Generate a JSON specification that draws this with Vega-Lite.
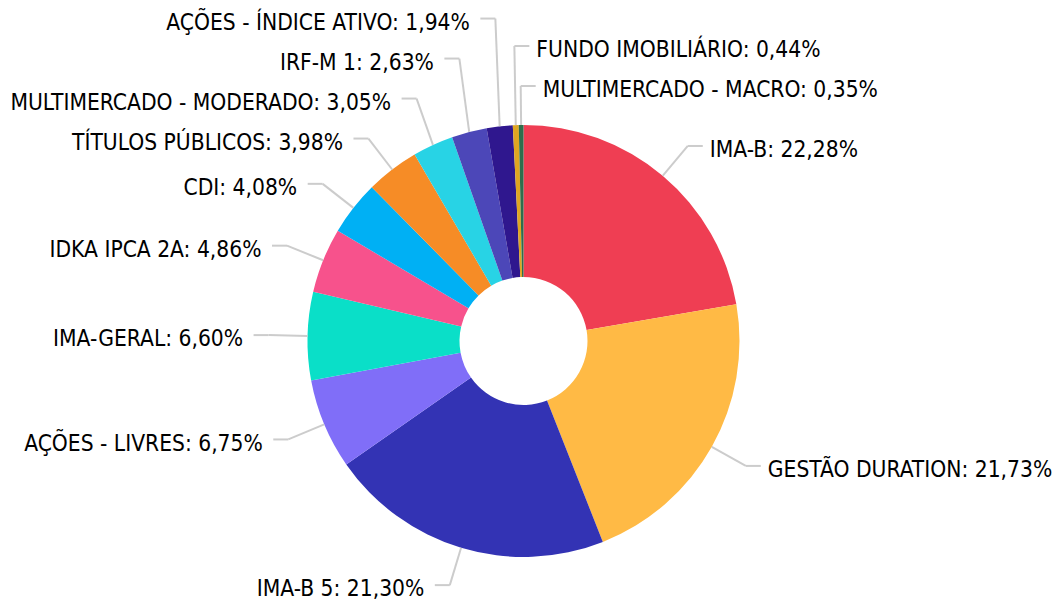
{
  "$schema": "https://vega.github.io/schema/vega-lite/v6.json",
  "width": 1047,
  "height": 518,
  "autosize": {"type": "none"},
  "padding": {"left": 0, "top": 82, "right": 12, "bottom": 0},
  "background": "white",
  "config": {"view": {"stroke": null}},
  "data": {"values": [
    {"categoria": "IMA-B", "valor": 22.28, "ordem": 1},
    {"categoria": "GESTÃO DURATION", "valor": 21.73, "ordem": 2},
    {"categoria": "IMA-B 5", "valor": 21.30, "ordem": 3},
    {"categoria": "AÇÕES - LIVRES", "valor": 6.75, "ordem": 4},
    {"categoria": "IMA-GERAL", "valor": 6.60, "ordem": 5},
    {"categoria": "IDKA IPCA 2A", "valor": 4.86, "ordem": 6},
    {"categoria": "CDI", "valor": 4.08, "ordem": 7},
    {"categoria": "TÍTULOS PÚBLICOS", "valor": 3.98, "ordem": 8},
    {"categoria": "MULTIMERCADO - MODERADO", "valor": 3.05, "ordem": 9},
    {"categoria": "IRF-M 1", "valor": 2.63, "ordem": 10},
    {"categoria": "AÇÕES - ÍNDICE ATIVO", "valor": 1.94, "ordem": 11},
    {"categoria": "FUNDO IMOBILIÁRIO", "valor": 0.44, "ordem": 12},
    {"categoria": "MULTIMERCADO - MACRO", "valor": 0.35, "ordem": 13}
  ]},
  "transform": [
    {"window": [{"op": "sum", "field": "valor", "as": "acum"}], "sort": [{"field": "ordem"}], "frame": [null, 0]},
    {"joinaggregate": [{"op": "sum", "field": "valor", "as": "total"}]},
    {"calculate": "(datum.acum - datum.valor/2)/datum.total*2*PI", "as": "ang"},
    {"calculate": "216*sin(datum.ang)", "as": "ex"},
    {"calculate": "-216*cos(datum.ang)", "as": "ey"},
    {"calculate": "255*sin(datum.ang)", "as": "bx"},
    {"calculate": "-255*cos(datum.ang)", "as": "by"},
    {"calculate": "(sin(datum.ang) > 0 || datum.ang > 6.2) ? 1 : -1", "as": "lado"},
    {"calculate": "datum.lado == 1 ? -(datum.ang > PI ? datum.ang - 2*PI : datum.ang) : datum.ang", "as": "chave"},
    {"window": [{"op": "row_number", "as": "rk"}], "groupby": ["lado"], "sort": [{"field": "chave"}]},
    {"calculate": "datum.by + datum.rk*40", "as": "t"},
    {"window": [{"op": "min", "field": "t", "as": "tmin"}], "groupby": ["lado"], "sort": [{"field": "chave"}], "frame": [null, 0]},
    {"calculate": "datum.tmin - datum.rk*40", "as": "ly"},
    {"calculate": "datum.bx + datum.lado*15", "as": "lx"},
    {"calculate": "datum.lado == 1 ? datum.lx + 7 : datum.lx - 10.5", "as": "tx"},
    {"calculate": "datum.categoria + ': ' + replace(format(datum.valor, '.2f'), '.', ',') + '%'", "as": "rotulo"}
  ],
  "layer": [
    {
      "mark": {"type": "arc", "outerRadius": 216, "innerRadius": 64},
      "encoding": {
        "theta": {"field": "valor", "type": "quantitative", "stack": true},
        "order": {"field": "ordem", "type": "quantitative"},
        "color": {
          "field": "categoria", "type": "nominal", "legend": null,
          "scale": {
            "domain": ["IMA-B", "GESTÃO DURATION", "IMA-B 5", "AÇÕES - LIVRES", "IMA-GERAL", "IDKA IPCA 2A", "CDI", "TÍTULOS PÚBLICOS", "MULTIMERCADO - MODERADO", "IRF-M 1", "AÇÕES - ÍNDICE ATIVO", "FUNDO IMOBILIÁRIO", "MULTIMERCADO - MACRO"],
            "range": ["#EF3E53", "#FFBA45", "#3333B4", "#806EF8", "#0ADFC8", "#F7528C", "#00B0F4", "#F68C26", "#28D3E5", "#4C47B8", "#2F178E", "#DFA622", "#2E6E4C"]
          }
        }
      }
    },
    {
      "mark": {"type": "rule", "color": "#cccccc", "strokeWidth": 2},
      "encoding": {
        "x": {"field": "ex", "type": "quantitative", "scale": {"domain": [-523.5, 523.5], "nice": false, "zero": false}, "axis": null},
        "y": {"field": "ey", "type": "quantitative", "scale": {"domain": [-259, 259], "nice": false, "zero": false, "reverse": true}, "axis": null},
        "x2": {"field": "bx"},
        "y2": {"field": "ly"}
      }
    },
    {
      "mark": {"type": "rule", "color": "#cccccc", "strokeWidth": 2},
      "encoding": {
        "x": {"field": "bx", "type": "quantitative", "scale": {"domain": [-523.5, 523.5], "nice": false, "zero": false}, "axis": null},
        "y": {"field": "ly", "type": "quantitative", "scale": {"domain": [-259, 259], "nice": false, "zero": false, "reverse": true}, "axis": null},
        "x2": {"field": "lx"},
        "y2": {"field": "ly"}
      }
    },
    {
      "transform": [{"filter": "datum.lado == 1"}],
      "mark": {"type": "text", "font": "DejaVu Sans Condensed", "fontSize": 22.6, "baseline": "alphabetic", "dy": 11.3, "align": "left", "color": "#000000"},
      "encoding": {
        "x": {"field": "tx", "type": "quantitative", "scale": {"domain": [-523.5, 523.5], "nice": false, "zero": false}, "axis": null},
        "y": {"field": "ly", "type": "quantitative", "scale": {"domain": [-259, 259], "nice": false, "zero": false, "reverse": true}, "axis": null},
        "text": {"field": "rotulo", "type": "nominal"}
      }
    },
    {
      "transform": [{"filter": "datum.lado == -1"}],
      "mark": {"type": "text", "font": "DejaVu Sans Condensed", "fontSize": 22.6, "baseline": "alphabetic", "dy": 11.3, "align": "right", "color": "#000000"},
      "encoding": {
        "x": {"field": "tx", "type": "quantitative", "scale": {"domain": [-523.5, 523.5], "nice": false, "zero": false}, "axis": null},
        "y": {"field": "ly", "type": "quantitative", "scale": {"domain": [-259, 259], "nice": false, "zero": false, "reverse": true}, "axis": null},
        "text": {"field": "rotulo", "type": "nominal"}
      }
    }
  ]
}
